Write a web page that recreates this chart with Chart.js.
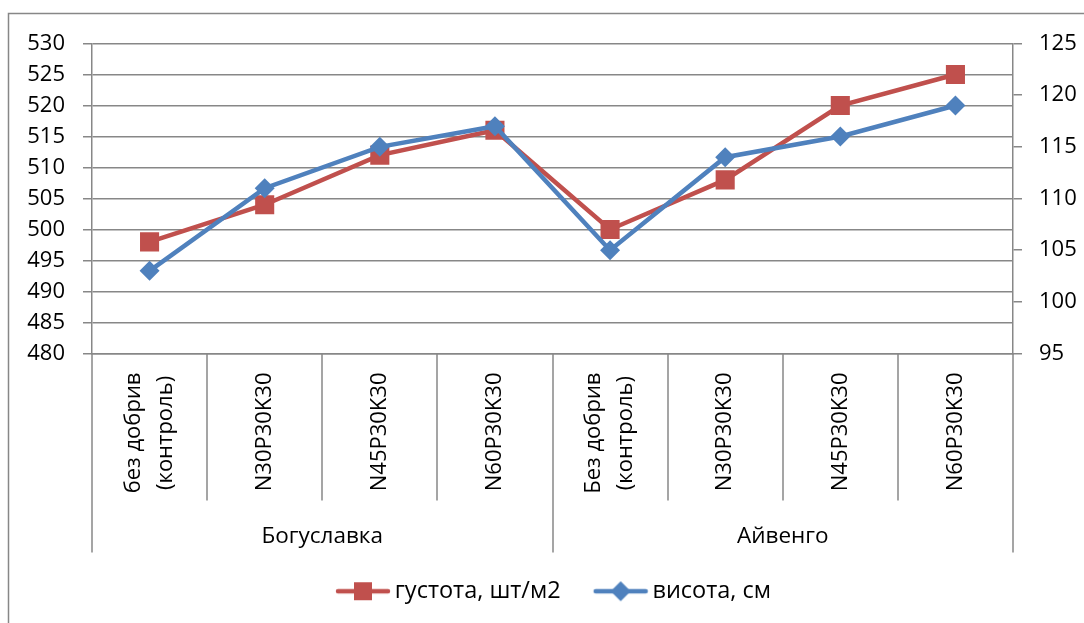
<!DOCTYPE html>
<html>
<head>
<meta charset="utf-8">
<script src="https://cdn.jsdelivr.net/npm/chart.js@4.4.1/dist/chart.umd.min.js"></script>
<style>
  html, body { margin: 0; padding: 0; background: #ffffff; }
  #wrap { width: 1084px; height: 623px; position: relative; }
</style>
</head>
<body>
<div id="wrap"><canvas id="chart"></canvas></div>
<script>
// Treatments (x categories) and the two varieties they belong to
const categories = [
  ['без добрив', '(контроль)'], 'N30P30K30', 'N45P30K30', 'N60P30K30',
  ['Без добрив', '(контроль)'], 'N30P30K30', 'N45P30K30', 'N60P30K30'
];
const groups = ['Богуславка', 'Айвенго'];
const groupSizes = [4, 4];

// Series
const densityLabel = 'густота, шт/м2';
const density = [498, 504, 512, 516, 500, 508, 520, 525];
const heightLabel = 'висота, см';
const plantHeight = [103, 111, 115, 117, 105, 114, 116, 119];

// Axis ranges
const leftAxis = { min: 480, max: 530, step: 5 };
const rightAxis = { min: 95, max: 125, step: 5 };

const FONT = "'Open Sans', 'Noto Sans', sans-serif";
const RED = '#C0504D';
const BLUE = '#4F81BD';
const GRID = '#878787';
const GRID_W = 1.5;

// Legend swatch: short line with the series marker in the middle
function swatch(color, shape) {
  const W = 86, H = 24, vis = 56;
  const c = document.createElement('canvas');
  c.width = W; c.height = H;
  const g = c.getContext('2d');
  const x0 = W - vis, cy = H / 2, cx = x0 + vis / 2;
  g.strokeStyle = color; g.lineWidth = 4.5; g.lineCap = 'round';
  g.beginPath(); g.moveTo(x0 + 3, cy); g.lineTo(W - 3, cy); g.stroke();
  g.fillStyle = color;
  if (shape === 'rect') {
    g.fillRect(cx - 9, cy - 9, 18, 18);
  } else {
    g.beginPath();
    g.moveTo(cx - 10, cy); g.lineTo(cx, cy - 10); g.lineTo(cx + 10, cy); g.lineTo(cx, cy + 10);
    g.closePath(); g.fill();
  }
  return c;
}
const swatches = [swatch(RED, 'rect'), swatch(BLUE, 'diamond')];

// Outer frame of the chart
const frame = {
  id: 'frame',
  beforeDraw(chart) {
    const { ctx } = chart;
    ctx.save();
    ctx.strokeStyle = GRID; ctx.lineWidth = GRID_W;
    ctx.strokeRect(8.5, 13.5, 1200, 700);
    ctx.restore();
  }
};

// Two-level category axis: rotated treatment labels, separators, variety names
const categoryBand = {
  id: 'categoryBand',
  afterDraw(chart) {
    const { ctx, chartArea, scales: { x } } = chart;
    const n = categories.length;
    const step = (x.right - x.left) / n;
    const top = chartArea.bottom;
    const edges = new Set([0]);
    let acc = 0;
    groupSizes.forEach(s => { acc += s; edges.add(acc); });

    ctx.save();
    ctx.strokeStyle = GRID; ctx.lineWidth = GRID_W;
    for (let i = 0; i <= n; i++) {
      const px = Math.round(x.left + i * step);
      const len = edges.has(i) ? 199 : 147;
      ctx.beginPath(); ctx.moveTo(px, top); ctx.lineTo(px, top + len); ctx.stroke();
    }

    ctx.fillStyle = '#000000';
    ctx.font = `22px ${FONT}`;
    ctx.textAlign = 'center';
    ctx.textBaseline = 'middle';
    categories.forEach((lab, i) => {
      const lines = Array.isArray(lab) ? lab : [lab];
      const cx = x.getPixelForValue(i);
      const blockLen = Math.max(...lines.map(l => ctx.measureText(l).width));
      const along = top + 19 + blockLen / 2;
      lines.forEach((ln, j) => {
        const off = (j - (lines.length - 1) / 2) * 32;
        ctx.save();
        ctx.translate(cx + off, along);
        ctx.rotate(-Math.PI / 2);
        ctx.fillText(ln, 0, 0);
        ctx.restore();
      });
    });

    ctx.font = `22.5px ${FONT}`;
    let start = 0;
    groups.forEach((gName, gi) => {
      const a = x.left + start * step;
      const b = x.left + (start + groupSizes[gi]) * step;
      ctx.fillText(gName, (a + b) / 2, top + 183);
      start += groupSizes[gi];
    });
    ctx.restore();
  }
};

new Chart(document.getElementById('chart'), {
  type: 'line',
  data: {
    labels: categories,
    datasets: [
      {
        label: densityLabel, data: density, yAxisID: 'y',
        borderColor: RED, backgroundColor: RED, borderWidth: 4.5,
        pointStyle: 'rect', pointRadius: 13.5, pointBorderWidth: 0,
        pointBackgroundColor: RED, tension: 0, order: 2
      },
      {
        label: heightLabel, data: plantHeight, yAxisID: 'y1',
        borderColor: BLUE, backgroundColor: BLUE, borderWidth: 4.5,
        pointStyle: 'rectRot', pointRadius: 10, pointBorderWidth: 0,
        pointBackgroundColor: BLUE, tension: 0, order: 1
      }
    ]
  },
  options: {
    responsive: true,
    maintainAspectRatio: false,
    animation: false,
    layout: { padding: { top: 43.5, bottom: 10, left: 0, right: 0 } },
    scales: {
      x: {
        offset: true,
        ticks: { display: false },
        grid: { display: false, drawTicks: false, offset: true },
        border: { color: GRID, width: GRID_W },
        afterFit(s) { s.height = 216; }
      },
      y: {
        position: 'left',
        min: leftAxis.min, max: leftAxis.max,
        ticks: { stepSize: leftAxis.step, color: '#000000', padding: 18, font: { size: 22, family: FONT } },
        grid: { color: GRID, lineWidth: GRID_W, tickLength: 9 },
        border: { color: GRID, width: GRID_W },
        afterFit(s) { s.width = 92; }
      },
      y1: {
        position: 'right',
        min: rightAxis.min, max: rightAxis.max,
        ticks: { stepSize: rightAxis.step, color: '#000000', padding: 17, font: { size: 22, family: FONT } },
        grid: { drawOnChartArea: false, color: GRID, lineWidth: GRID_W, tickLength: 9 },
        border: { color: GRID, width: GRID_W },
        afterFit(s) { s.width = 71; }
      }
    },
    plugins: {
      tooltip: { enabled: false },
      legend: {
        position: 'bottom',
        labels: {
          usePointStyle: true,
          pointStyleWidth: 70,
          padding: 10,
          color: '#000000',
          font: { size: 23.5, family: FONT },
          generateLabels(chart) {
            return chart.data.datasets.map((d, i) => ({
              text: d.label, pointStyle: swatches[i],
              fillStyle: d.borderColor, strokeStyle: d.borderColor,
              lineWidth: 0, hidden: false, datasetIndex: i
            }));
          }
        }
      }
    }
  },
  plugins: [frame, categoryBand]
});
</script>
</body>
</html>
